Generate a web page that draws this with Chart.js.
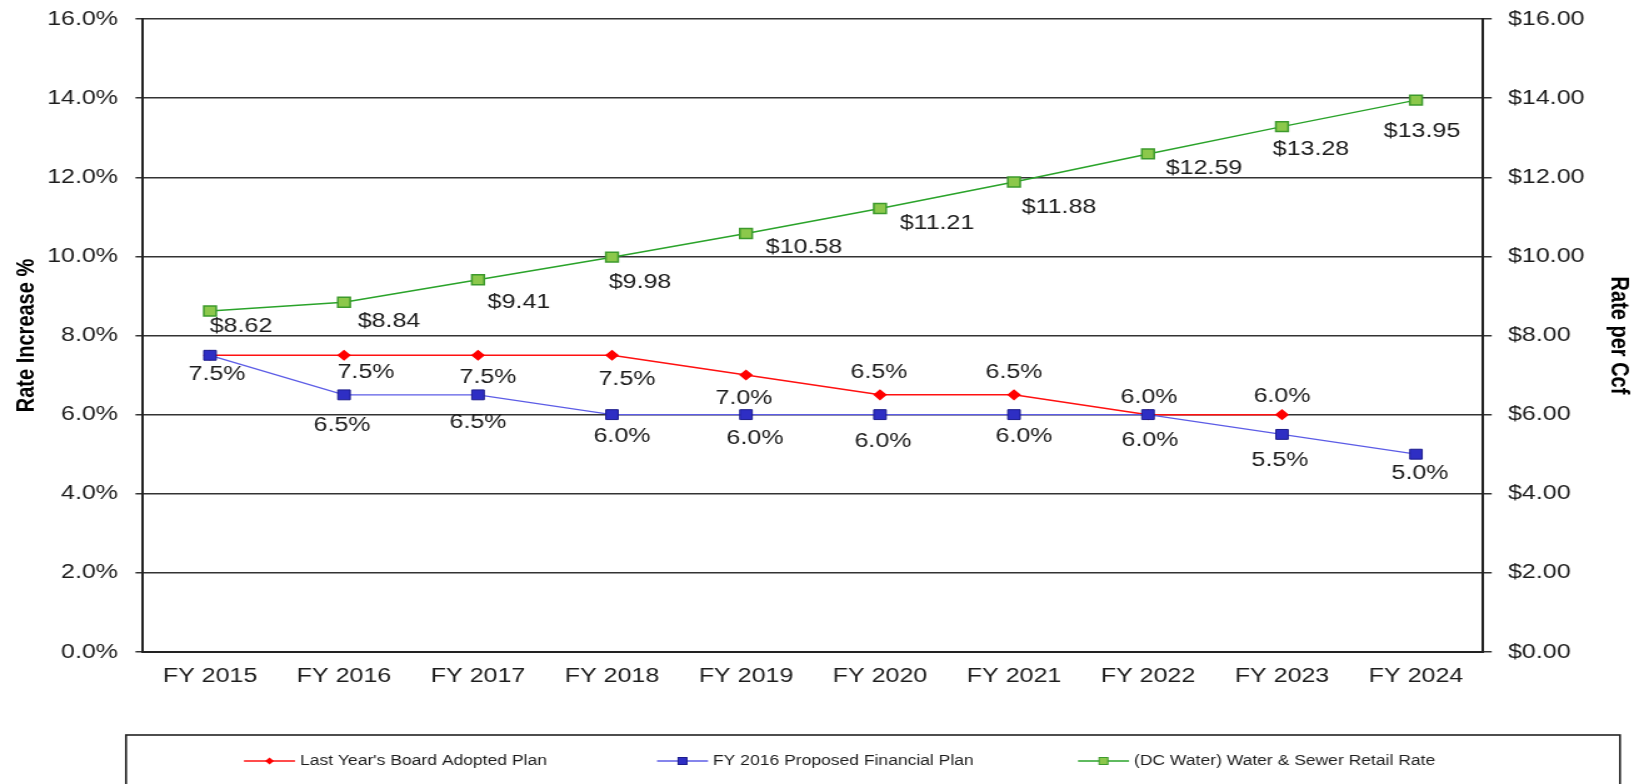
<!DOCTYPE html>
<html>
<head>
<meta charset="utf-8">
<script src="https://cdn.jsdelivr.net/npm/chart.js@4/dist/chart.umd.min.js"></script>
<style>
  html, body { margin: 0; padding: 0; background: #fff; overflow: hidden; }
  #wrap { width: 1644px; height: 784px; position: relative; overflow: hidden; }
  /* the source picture is stretched sideways, so the canvas is drawn narrower and widened */
  #rateChart { position: absolute; left: 0; top: 0; transform-origin: 0 0; }
</style>
</head>
<body>
<div id="wrap"><canvas id="rateChart"></canvas></div>
<script>
const categories = ['FY 2015', 'FY 2016', 'FY 2017', 'FY 2018', 'FY 2019', 'FY 2020', 'FY 2021', 'FY 2022', 'FY 2023', 'FY 2024'];
const boardPlan = [7.5, 7.5, 7.5, 7.5, 7.0, 6.5, 6.5, 6.0, 6.0, null];
const proposedPlan = [7.5, 6.5, 6.5, 6.0, 6.0, 6.0, 6.0, 6.0, 5.5, 5.0];
const retailRate = [8.62, 8.84, 9.41, 9.98, 10.58, 11.21, 11.88, 12.59, 13.28, 13.95];
const seriesNames = ["Last Year's Board Adopted Plan", 'FY 2016 Proposed Financial Plan', '(DC Water) Water & Sewer Retail Rate'];

// where each value label sits relative to its point (screen px)
const greenLabelPos = [[31,16],[45,19],[41,23],[28,25],[58,14],[57,15],[45,25],[56,15],[29,23],[6,31]];
const redLabelPos = [null,[22,17],[10,22],[15,24],[-2,23],[-1,-22],[0,-22],[1,-17],[0,-18],null];
const blueLabelPos = [[7,19],[-2,31],[0,28],[10,22],[9,24],[3,27],[10,22],[2,26],[-2,26],[4,19]];

const W = 1644, H = 784;
const CW = 1315;
const S = W / CW;

const FONT = '"Liberation Sans", Arial, sans-serif';
const TEXT = '#1c1c1c';

const canvas = document.getElementById('rateChart');
canvas.width = CW;
canvas.height = H;
canvas.style.width = CW + 'px';
canvas.style.height = H + 'px';
canvas.style.transform = 'scaleX(' + S + ')';

const valueLabels = {
  id: 'valueLabels',
  afterDatasetsDraw(chart) {
    const ctx = chart.ctx;
    ctx.save();
    ctx.font = '20px ' + FONT;
    ctx.fillStyle = TEXT;
    ctx.textAlign = 'center';
    ctx.textBaseline = 'middle';
    chart.data.datasets.forEach((ds, i) => {
      const meta = chart.getDatasetMeta(i);
      meta.data.forEach((pt, j) => {
        const v = ds.data[j];
        const off = ds.labelPos[j];
        if (v == null || !off) return;
        ctx.fillText(ds.fmt(v), pt.x + off[0] / S, pt.y + off[1]);
      });
    });
    ctx.restore();
  }
};

const boxLegend = {
  id: 'boxLegend',
  afterDraw(chart) {
    const ctx = chart.ctx;
    ctx.save();
    ctx.strokeStyle = '#222';
    ctx.lineWidth = 1.6;
    ctx.strokeRect(126 / S, 735, (1620 - 126) / S, 70);
    const items = [[244, 0], [657, 1], [1078, 2]];
    const y = 761;
    ctx.font = '14px ' + FONT;
    ctx.textBaseline = 'middle';
    items.forEach(([sx, i]) => {
      const ds = chart.data.datasets[i];
      const x = sx / S;
      const len = 51 / S;
      ctx.strokeStyle = ds.borderColor;
      ctx.lineWidth = 1.5;
      ctx.beginPath();
      ctx.moveTo(x, y);
      ctx.lineTo(x + len, y);
      ctx.stroke();
      ctx.fillStyle = ds.pointBackgroundColor;
      ctx.strokeStyle = ds.pointBorderColor;
      ctx.lineWidth = 1;
      const cx = x + len / 2;
      if (ds.pointStyle === 'rectRot') {
        ctx.beginPath();
        ctx.moveTo(cx, y - 3.5); ctx.lineTo(cx + 3.5, y); ctx.lineTo(cx, y + 3.5); ctx.lineTo(cx - 3.5, y);
        ctx.closePath(); ctx.fill();
      } else {
        ctx.fillRect(cx - 3.5, y - 3.5, 7, 7);
        ctx.strokeRect(cx - 3.5, y - 3.5, 7, 7);
      }
      ctx.fillStyle = TEXT;
      ctx.fillText(ds.label, x + len + 5 / S, y);
    });
    ctx.restore();
  }
};

// fixed axis sizes, no extra label padding
const fixSize = (w, h) => s => {
  if (w != null) s.width = w;
  if (h != null) s.height = h;
  s.paddingTop = 0;
  s.paddingBottom = 0;
  s.paddingLeft = 0;
  s.paddingRight = 0;
};

new Chart(canvas.getContext('2d'), {
  type: 'line',
  data: {
    labels: categories,
    datasets: [
      {
        label: seriesNames[0],
        data: boardPlan,
        yAxisID: 'y',
        borderColor: '#ff1010',
        borderWidth: 1.5,
        pointStyle: 'rectRot',
        pointRadius: 4.5,
        pointBackgroundColor: '#ff0000',
        pointBorderColor: '#ff0000',
        labelPos: redLabelPos,
        fmt: v => v.toFixed(1) + '%',
        order: 3
      },
      {
        label: seriesNames[1],
        data: proposedPlan,
        yAxisID: 'y',
        borderColor: '#5c5ce6',
        borderWidth: 1.3,
        pointStyle: 'rect',
        pointRadius: 7,
        pointBackgroundColor: '#2e2ec4',
        pointBorderColor: '#1c1c8c',
        pointBorderWidth: 1,
        labelPos: blueLabelPos,
        fmt: v => v.toFixed(1) + '%',
        order: 2
      },
      {
        label: seriesNames[2],
        data: retailRate,
        yAxisID: 'y1',
        borderColor: '#2aa32a',
        borderWidth: 1.5,
        pointStyle: 'rect',
        pointRadius: 7,
        pointBackgroundColor: '#8cc84b',
        pointBorderColor: '#3d9a2c',
        pointBorderWidth: 1.5,
        labelPos: greenLabelPos,
        fmt: v => '$' + v.toFixed(2),
        order: 1
      }
    ]
  },
  options: {
    responsive: false,
    animation: false,
    layout: { autoPadding: false, padding: { top: 19, left: 0, right: 0, bottom: 0 } },
    plugins: {
      legend: { display: false },
      tooltip: { enabled: false }
    },
    scales: {
      x: {
        offset: true,
        grid: { display: false, drawTicks: false },
        border: { display: true, color: '#222', width: 2 },
        ticks: { color: TEXT, font: { family: FONT, size: 20 }, padding: 12, maxRotation: 0 },
        afterFit: fixSize(null, 132)
      },
      y: {
        position: 'left',
        min: 0,
        max: 16,
        ticks: {
          stepSize: 2,
          color: TEXT,
          font: { family: FONT, size: 20 },
          padding: 14,
          callback: v => v.toFixed(1) + '%'
        },
        grid: { color: '#333', lineWidth: 1.5, tickLength: 6 },
        border: { color: '#222', width: 2 },
        title: { display: true, text: 'Rate Increase %', color: '#000', font: { family: FONT, size: 20, weight: 'bold' }, padding: { top: 9, bottom: 0 } },
        afterFit: fixSize(143 / S, null)
      },
      y1: {
        position: 'right',
        min: 0,
        max: 16,
        ticks: {
          stepSize: 2,
          color: TEXT,
          font: { family: FONT, size: 20 },
          padding: 13,
          callback: v => '$' + v.toFixed(2)
        },
        grid: { drawOnChartArea: false, color: '#333', lineWidth: 1.5, tickLength: 7 },
        border: { color: '#222', width: 2 },
        title: { display: true, text: 'Rate per Ccf', color: '#000', font: { family: FONT, size: 20, weight: 'bold' }, padding: { top: 8, bottom: 0 } },
        afterFit: fixSize(161 / S, null)
      }
    }
  },
  plugins: [valueLabels, boxLegend]
});
</script>
</body>
</html>
